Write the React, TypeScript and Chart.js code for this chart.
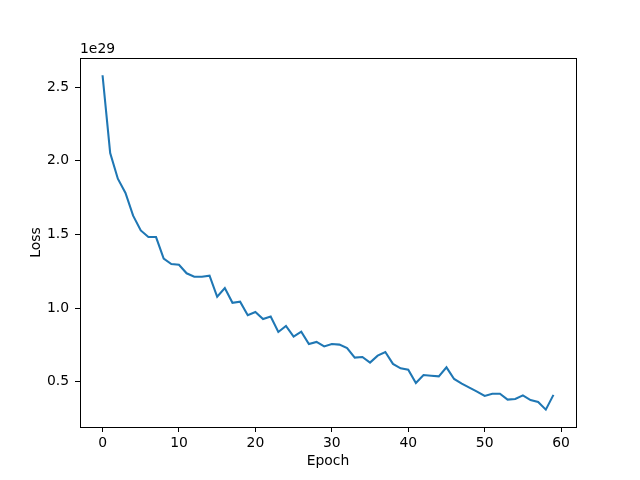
import React, { useEffect, useRef } from "react";
import { Chart, registerables } from "chart.js";

Chart.register(...registerables);

const EPOCHS: number[] = Array.from({ length: 60 }, (_, i) => i);
// Loss values in units of 1e29
const LOSS: number[] = [
  2.58, 2.052, 1.878, 1.781, 1.627, 1.527, 1.482, 1.482, 1.335, 1.299,
  1.294, 1.236, 1.213, 1.213, 1.22, 1.077, 1.136, 1.036, 1.043, 0.951,
  0.973, 0.926, 0.942, 0.838, 0.879, 0.806, 0.84, 0.756, 0.77, 0.74,
  0.756, 0.752, 0.729, 0.664, 0.668, 0.63, 0.677, 0.702, 0.621, 0.591,
  0.582, 0.492, 0.546, 0.541, 0.537, 0.598, 0.519, 0.487, 0.46, 0.433,
  0.404, 0.419, 0.419, 0.379, 0.383, 0.408, 0.376, 0.363, 0.311, 0.411,
];
const X_TICKS: number[] = [0, 10, 20, 30, 40, 50, 60];
const Y_TICKS: number[] = [0.5, 1.0, 1.5, 2.0, 2.5];
const OFFSET_TEXT = "1e29";
const X_LABEL = "Epoch";
const Y_LABEL = "Loss";

const FONT = "'DejaVu Sans', sans-serif";

export default function App() {
  const ref = useRef<HTMLCanvasElement | null>(null);
  useEffect(() => {
    if (!ref.current) return;
    const framePlugin = {
      id: "frame",
      afterDraw(chart: any) {
        const { ctx, chartArea } = chart;
        ctx.save();
        ctx.strokeStyle = "#000";
        ctx.lineWidth = 1;
        ctx.strokeRect(
          Math.round(chartArea.left) + 0.5,
          Math.round(chartArea.top) + 0.5,
          Math.round(chartArea.right - chartArea.left),
          Math.round(chartArea.bottom - chartArea.top)
        );
        ctx.fillStyle = "#000";
        ctx.font = `13.9px ${FONT}`;
        ctx.textAlign = "left";
        ctx.textBaseline = "alphabetic";
        ctx.fillText(OFFSET_TEXT, chartArea.left, chartArea.top - 5);
        ctx.restore();
      },
    };
    const chart = new Chart(ref.current, {
      type: "line",
      data: {
        datasets: [
          {
            data: EPOCHS.map((e, i) => ({ x: e, y: LOSS[i] })),
            borderColor: "#1f77b4",
            borderWidth: 2.08,
            pointRadius: 0,
            tension: 0,
            fill: false,
          },
        ],
      },
      options: {
        animation: false,
        responsive: false,
        devicePixelRatio: 1,
        layout: { padding: { left: 0, top: 58, right: 64, bottom: 0 } },
        plugins: { legend: { display: false }, tooltip: { enabled: false } },
        scales: {
          x: {
            type: "linear",
            min: -2.95,
            max: 61.95,
            afterFit: (s: any) => {
              s.height = 53;
            },
            afterBuildTicks: (s: any) => {
              s.ticks = X_TICKS.map((v) => ({ value: v }));
            },
            ticks: {
              color: "#000",
              font: { family: FONT, size: 13.9 },
              padding: 3,
              maxRotation: 0,
              autoSkip: false,
              callback: (v: any) => String(v),
            },
            grid: {
              drawOnChartArea: false,
              drawTicks: true,
              tickLength: 5,
              color: "#000",
            },
            border: { display: false },
            title: {
              display: true,
              text: X_LABEL,
              color: "#000",
              font: { family: FONT, size: 13.9 },
              padding: { top: 0, bottom: 10 },
            },
          },
          y: {
            type: "linear",
            min: 0.193,
            max: 2.697,
            afterFit: (s: any) => {
              s.width = 80;
            },
            afterBuildTicks: (s: any) => {
              s.ticks = Y_TICKS.map((v) => ({ value: v }));
            },
            ticks: {
              color: "#000",
              font: { family: FONT, size: 13.9 },
              padding: 6,
              autoSkip: false,
              callback: (v: any) => Number(v).toFixed(1),
            },
            grid: {
              drawOnChartArea: false,
              drawTicks: true,
              tickLength: 5,
              color: "#000",
            },
            border: { display: false },
            title: {
              display: true,
              text: Y_LABEL,
              color: "#000",
              font: { family: FONT, size: 13.9 },
              padding: { top: 28, bottom: 0 },
            },
          },
        },
      },
      plugins: [framePlugin],
    });
    return () => chart.destroy();
  }, []);
  return (
    <div style={{ position: "absolute", left: 0, top: 0, width: 640, height: 480, background: "#fff" }}>
      <canvas ref={ref} width={640} height={480} />
    </div>
  );
}
